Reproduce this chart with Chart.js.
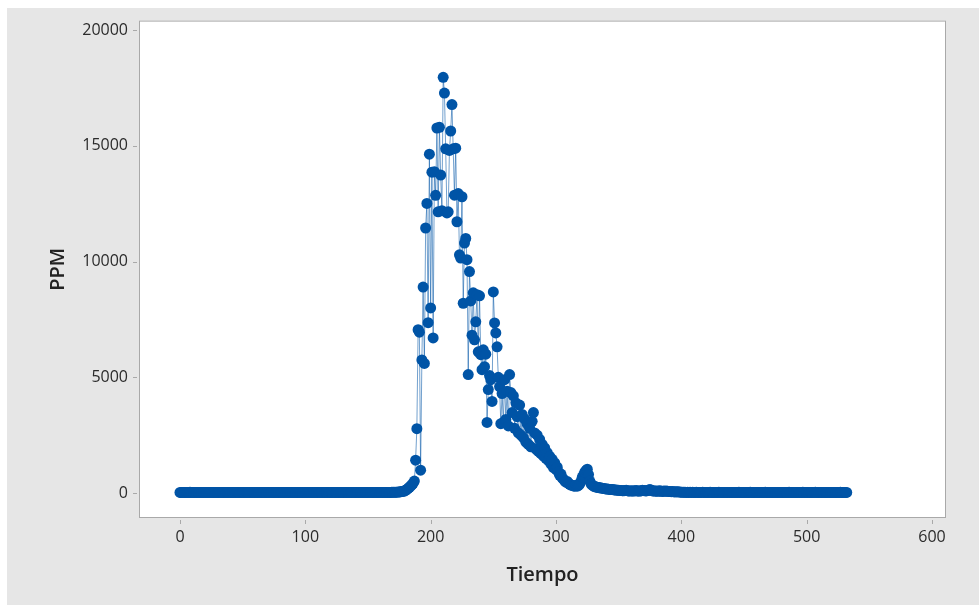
<!DOCTYPE html>
<html>
<head>
<meta charset="utf-8">
<script src="https://cdn.jsdelivr.net/npm/chart.js@4.4.1/dist/chart.umd.min.js"></script>
<style>
  html, body { margin: 0; padding: 0; background: #ffffff; }
  #wrap { position: relative; width: 979px; height: 605px; }
  canvas { display: block; }
</style>
</head>
<body>
<div id="wrap"><canvas id="c" width="979" height="605"></canvas></div>
<script>
// PPM reading per time step (Tiempo = 0, 1, 2, ...)
const ppm = [
  28,25,30,26,24,29,27,25,31,26,24,28,30,25,27,29,26,24,28,27,
  25,29,27,24,30,26,28,25,27,29,24,26,30,28,25,27,26,29,24,28,
  27,25,29,26,28,24,30,27,25,28,26,29,24,27,30,25,28,26,24,29,
  26,28,25,30,27,24,29,26,28,25,27,30,24,26,29,28,25,27,26,30,
  24,28,27,25,29,26,30,24,28,27,25,29,26,28,24,30,27,25,28,26,
  29,24,27,30,25,28,26,29,24,27,28,25,30,26,27,24,29,28,25,26,
  28,30,24,27,26,29,25,28,27,24,30,26,29,25,28,27,24,26,30,28,
  25,27,29,24,28,26,30,25,27,28,24,29,26,27,30,25,28,24,27,29,
  26,28,25,30,27,24,29,26,28,31,33,35,38,40,45,50,58,65,75,90,
  120,160,200,250,300,360,420,520,1420,2780,7060,6950,990,5750,8900,5600,11450,12510,7360,14640,
  8000,13860,6700,13880,12860,15770,12150,15800,13740,12200,17960,17280,14870,12100,12150,14800,15640,16780,14870,12870,
  14900,11720,12940,10290,10150,12800,8200,10800,11000,10080,5120,9570,8300,6820,8650,6620,7400,8570,6100,8520,
  5980,5330,6190,5460,6000,3050,4470,5075,4900,3960,8690,7350,6920,6320,5000,4600,3000,4300,3050,4900,
  3180,4400,2900,5120,4340,3480,4200,2800,3900,3300,2600,3800,2500,3400,2400,3200,2200,3000,2100,2800,
  2000,3100,3480,2600,1900,2500,1800,2320,1700,2100,1600,1950,1500,1750,1400,1590,1250,1460,1100,1300,
  1030,1120,900,770,820,650,600,520,470,500,420,380,350,330,310,300,340,300,330,400,
  520,690,780,900,980,1030,800,520,390,340,300,280,260,250,240,230,220,210,200,190,
  180,175,170,160,155,150,140,135,130,125,120,115,110,105,100,110,120,105,95,90,
  100,95,90,100,110,95,85,90,105,120,115,100,95,110,130,150,120,100,90,85,
  95,80,90,100,75,70,85,80,95,75,70,65,60,70,55,50,60,55,45,50,
  40,35,38,32,30,34,29,31,28,33,30,27,31,29,26,30,28,32,27,29,
  30,26,28,31,27,29,25,30,28,26,31,27,29,28,25,30,27,29,26,28,
  29,27,30,25,28,26,31,28,27,29,25,30,26,28,27,31,29,26,28,30,
  27,25,29,28,30,26,27,31,28,25,29,27,30,26,28,29,25,27,30,28,
  26,29,27,30,25,28,31,26,29,27,28,25,30,27,29,26,28,31,27,25,
  29,28,26,30,27,25,29,31,28,26,27,30,25,29,28,26,30,27,29,25,
  28,27,30,26,29,25,28,31,27,26,29,28,30
];
// time axis: one reading per unit of time, starting at 0
const tiempo = ppm.map((_, i) => i);

const xTickValues = [0, 100, 200, 300, 400, 500, 600];
const yTickValues = [0, 5000, 10000, 15000, 20000];

const BLUE = '#0054A6';
const PANEL = '#e6e6e6';
const FRAME = '#a9a9a9';

// grey panel behind the whole figure and white plot area with a frame
const panelPlugin = {
  id: 'panel',
  beforeDraw(chart) {
    const { ctx, chartArea: a } = chart;
    ctx.save();
    ctx.fillStyle = '#ffffff';
    ctx.fillRect(0, 0, chart.width, chart.height);
    ctx.fillStyle = PANEL;
    ctx.fillRect(7, 8, chart.width - 7, chart.height - 8);
    ctx.fillStyle = '#ffffff';
    ctx.fillRect(a.left, a.top, a.right - a.left, a.bottom - a.top);
    ctx.restore();
  },
  afterDraw(chart) {
    const { ctx, chartArea: a, scales } = chart;
    ctx.save();
    ctx.strokeStyle = FRAME;
    ctx.lineWidth = 1;
    ctx.strokeRect(a.left + 0.5, a.top + 0.5, a.right - a.left - 1, a.bottom - a.top - 1);
    ctx.beginPath();
    scales.x.ticks.forEach(t => {
      const px = Math.round(scales.x.getPixelForValue(t.value)) + 0.5;
      ctx.moveTo(px, a.bottom + 2);
      ctx.lineTo(px, a.bottom + 6);
    });
    scales.y.ticks.forEach(t => {
      const py = Math.round(scales.y.getPixelForValue(t.value)) + 0.5;
      ctx.moveTo(a.left - 6, py);
      ctx.lineTo(a.left - 2, py);
    });
    ctx.stroke();
    ctx.restore();
  }
};

const tickFont = { family: "'Open Sans', 'Noto Sans', sans-serif", size: 16 };
const titleFont = { family: "'Open Sans', 'Noto Sans', sans-serif", size: 20, weight: '600' };
const plainNumber = v => String(v);

new Chart(document.getElementById('c'), {
  type: 'line',
  data: {
    datasets: [{
      data: tiempo.map((t, i) => ({ x: t, y: ppm[i] })),
      borderColor: 'rgba(0, 84, 166, 0.55)',
      borderWidth: 1,
      pointRadius: 5.5,
      pointBackgroundColor: BLUE,
      pointBorderColor: BLUE,
      pointBorderWidth: 0,
      tension: 0,
      fill: false
    }]
  },
  options: {
    responsive: false,
    animation: false,
    devicePixelRatio: 1,
    layout: { padding: { top: 19, right: 33, left: 0, bottom: 0 } },
    plugins: { legend: { display: false }, tooltip: { enabled: false } },
    scales: {
      x: {
        type: 'linear',
        min: -32.7,
        max: 611.2,
        afterBuildTicks: s => { s.ticks = xTickValues.map(v => ({ value: v })); },
        afterFit: s => { s.height = 87; },
        grid: { display: false, drawTicks: false },
        border: { display: false },
        ticks: { font: tickFont, color: '#2b2b2b', padding: 10, maxRotation: 0, callback: plainNumber },
        title: { display: true, text: 'Tiempo', font: titleFont, color: '#222222', padding: { top: 0, bottom: 18 } }
      },
      y: {
        type: 'linear',
        min: -1076,
        max: 20409,
        afterBuildTicks: s => { s.ticks = yTickValues.map(v => ({ value: v })); },
        afterFit: s => { s.width = 139; },
        grid: { display: false, drawTicks: false },
        border: { display: false },
        ticks: { font: tickFont, color: '#2b2b2b', padding: 11, callback: plainNumber },
        title: { display: true, text: 'PPM', font: titleFont, color: '#222222', padding: { top: 46, bottom: 0 } }
      }
    }
  },
  plugins: [panelPlugin]
});
</script>
</body>
</html>
